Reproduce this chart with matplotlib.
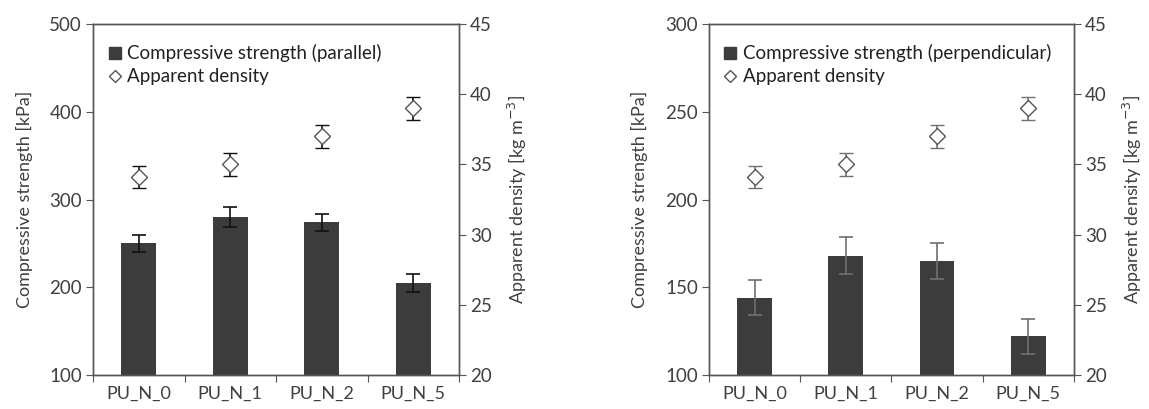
import numpy as np
import matplotlib
matplotlib.use("Agg")
import matplotlib.pyplot as plt
from matplotlib.lines import Line2D

plt.rcParams['font.family'] = ['Lato', 'DejaVu Sans']

samples = ['PU_N_0', 'PU_N_1', 'PU_N_2', 'PU_N_5']

# compressive strength [kPa]
cs_parallel = [250, 280, 274, 205]
cs_parallel_err = [10, 11, 10, 10]
cs_perp = [144, 168, 165, 122]
cs_perp_err = [10, 10.5, 10, 10]

# apparent density [kg m-3]
density = [34.1, 35.0, 37.0, 39.0]
density_err = [0.8, 0.8, 0.8, 0.8]

TXT = '#404040'
BAR = '#3c3c3c'


def panel(fig, rect, cs, cs_err, ylim, yticks, label, err_color):
    ax = fig.add_axes(rect)
    x = np.arange(len(samples))
    ax.bar(x, cs, width=0.38, color=BAR, zorder=2)
    ax.errorbar(x, cs, yerr=cs_err, fmt='none', ecolor=err_color,
                elinewidth=1.2, capsize=5, capthick=1.2, zorder=3)
    ax.set_xlim(-0.5, len(samples) - 0.5)
    ax.set_ylim(*ylim)
    ax.set_yticks(yticks)
    ax.set_xticks(np.arange(-0.5, len(samples)), labels=[])
    ax.set_xticks(x, labels=samples, minor=True)
    ax.tick_params(axis='x', which='major', length=5, direction='out',
                   color='#555555')
    ax.tick_params(axis='x', which='minor', length=0, pad=8,
                   labelsize=13, labelcolor=TXT)
    ax.tick_params(axis='y', length=5, direction='out', color='#555555',
                   labelsize=13.5, labelcolor=TXT, pad=3)
    ax.set_ylabel('Compressive strength [kPa]', fontsize=13, color=TXT,
                  labelpad=12)
    for s in ax.spines.values():
        s.set_color('#555555')
        s.set_linewidth(1.0)

    ax2 = ax.twinx()
    ax2.errorbar(x, density, yerr=density_err, fmt='D', ms=8,
                 mfc='white', mec='#555555', mew=1.0,
                 ecolor=err_color, elinewidth=1.2, capsize=5, capthick=1.2,
                 zorder=4)
    ax2.set_ylim(20, 45)
    ax2.set_yticks([20, 25, 30, 35, 40, 45])
    ax2.tick_params(axis='y', length=5, direction='out', color='#555555',
                    labelsize=13.5, labelcolor=TXT, pad=3)
    ax2.set_ylabel('Apparent density [kg m$^{-3}$]', fontsize=13,
                   color=TXT, labelpad=10)
    for s in ax2.spines.values():
        s.set_color('#555555')
        s.set_linewidth(1.0)

    handles = [
        Line2D([], [], ls='none', marker='s', ms=8, color=BAR),
        Line2D([], [], ls='none', marker='D', ms=6, mfc='white',
               mec='#555555', mew=1.0),
    ]
    ax2.legend(handles, [label, 'Apparent density'], loc='upper left',
               frameon=False, fontsize=13.5, handlelength=0.7,
               handletextpad=0.3, borderaxespad=0.4, labelspacing=0.3,
               labelcolor='#222222', bbox_to_anchor=(0.0, 0.985))
    return ax, ax2


fig = plt.figure(figsize=(11.49, 4.09), dpi=100)
panel(fig, [0.081, 0.083, 0.3185, 0.858], cs_parallel, cs_parallel_err,
      (100, 500), [100, 200, 300, 400, 500],
      'Compressive strength (parallel)', '#111111')
panel(fig, [0.617, 0.083, 0.3177, 0.858], cs_perp, cs_perp_err,
      (100, 300), [100, 150, 200, 250, 300],
      'Compressive strength (perpendicular)', '#707070')

fig.savefig('out.png', dpi=100)
